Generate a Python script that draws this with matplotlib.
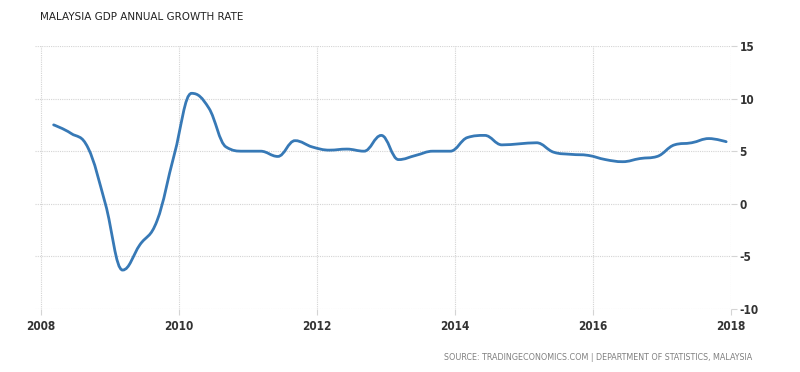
import numpy as np
import matplotlib
matplotlib.use('Agg')
import matplotlib.pyplot as plt
from matplotlib.path import Path
from matplotlib.patches import PathPatch

plt.rcParams['axes.unicode_minus'] = False

# quarterly GDP annual growth rate, Q1 2008 .. Q4 2017
years = list(range(2008, 2018))
growth = [7.5, 6.7, 5.3, 0.0,
          -6.3, -3.9, -1.6, 4.7,
          10.5, 9.1, 5.4, 5.0,
          5.0, 4.5, 6.0, 5.4,
          5.1, 5.2, 5.0, 6.5,
          4.2, 4.6, 5.0, 5.0,
          6.3, 6.5, 5.6, 5.7,
          5.8, 4.9, 4.7, 4.6,
          4.2, 4.0, 4.3, 4.5,
          5.6, 5.8, 6.2, 5.9]
x_ticks = [2008, 2010, 2012, 2014, 2016, 2018]
y_ticks = [-10, -5, 0, 5, 10, 15]

TITLE = 'MALAYSIA GDP ANNUAL GROWTH RATE'
SOURCE = 'SOURCE: TRADINGECONOMICS.COM | DEPARTMENT OF STATISTICS, MALAYSIA'

LINE = '#3779b6'
GRID = '#d4d4d4'
TEXT = '#333333'

dates = np.array([y + 0.18 + 0.25 * q for y in years for q in range(4)])
vals = np.array(growth)


def spline_path(xs, ys, smoothing=1.5):
    """highcharts-like spline: bezier with control points that avoid overshoot"""
    n = len(xs)
    denom = smoothing + 1
    lc = [None] * n
    rc = [None] * n
    for i in range(n):
        px, py = xs[i], ys[i]
        if i == 0 or i == n - 1:
            lc[i] = rc[i] = (px, py)
            continue
        lx, ly = xs[i - 1], ys[i - 1]
        nx, ny = xs[i + 1], ys[i + 1]
        lcx = (smoothing * px + lx) / denom
        lcy = (smoothing * py + ly) / denom
        rcx = (smoothing * px + nx) / denom
        rcy = (smoothing * py + ny) / denom
        corr = (rcy - lcy) * (rcx - px) / (rcx - lcx) + py - rcy
        lcy += corr
        rcy += corr
        if lcy > ly and lcy > py:
            lcy = max(ly, py); rcy = 2 * py - lcy
        elif lcy < ly and lcy < py:
            lcy = min(ly, py); rcy = 2 * py - lcy
        if rcy > ny and rcy > py:
            rcy = max(ny, py); lcy = 2 * py - rcy
        elif rcy < ny and rcy < py:
            rcy = min(ny, py); lcy = 2 * py - rcy
        lc[i] = (lcx, lcy)
        rc[i] = (rcx, rcy)
    verts = [(xs[0], ys[0])]
    codes = [Path.MOVETO]
    for i in range(1, n):
        verts += [rc[i - 1], lc[i], (xs[i], ys[i])]
        codes += [Path.CURVE4] * 3
    return Path(verts, codes)


fig = plt.figure(figsize=(8, 3.72), dpi=100)
ax = fig.add_axes([0.04375, 0.1694, 0.87, 0.707])

ax.add_patch(PathPatch(spline_path(dates, vals), facecolor='none',
                       edgecolor=LINE, lw=2.0, capstyle='round', zorder=3))

ax.set_xlim(2007.91, 2018.0)
ax.set_ylim(-10, 15)
ax.set_xticks(x_ticks)
ax.set_yticks(y_ticks)
ax.grid(True, color=GRID, lw=0.8, ls=(0, (1, 1)))
ax.set_axisbelow(True)
for s in ax.spines.values():
    s.set_visible(False)
ax.yaxis.tick_right()
ax.tick_params(axis='both', length=4, width=0.8, color=GRID, labelcolor=TEXT)
ax.tick_params(axis='x', pad=4)
ax.tick_params(axis='y', pad=2)
for lab in ax.get_xticklabels() + ax.get_yticklabels():
    lab.set_family('DejaVu Sans')
    lab.set_stretch('condensed')
    lab.set_fontsize(8.5)
    lab.set_fontweight('bold')

fig.text(40 / 800, 1 - 17 / 372, TITLE, ha='left', va='center',
         fontsize=7.5, color='#222222', family='DejaVu Sans')
fig.text(752 / 800, 1 - 357 / 372, SOURCE, ha='right', va='center',
         fontsize=6.4, color='#808080', family='DejaVu Sans', stretch='condensed')

fig.savefig('out.png', dpi=100)
